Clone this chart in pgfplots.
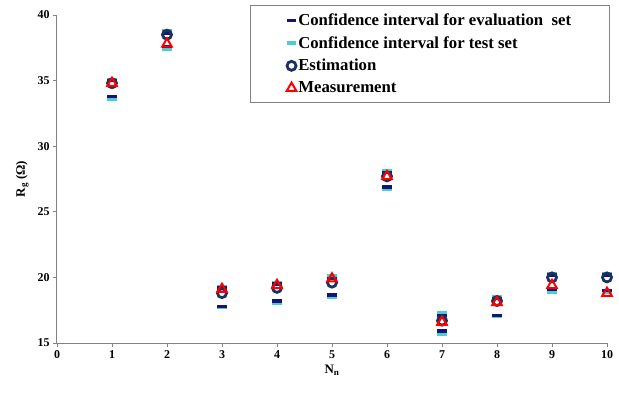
\documentclass[border=0pt]{standalone}
\usepackage{pgfplots}
\pgfplotsset{compat=1.18}
\usepackage{fontspec}
\setmainfont{Liberation Serif}
\definecolor{evalc}{RGB}{20,20,120}
\definecolor{testc}{RGB}{72,209,204}
\definecolor{estc}{RGB}{25,50,95}
\definecolor{measc}{RGB}{255,0,0}
\definecolor{axc}{RGB}{130,130,130}
\begin{document}
\begin{tikzpicture}[x=1bp,y=1bp]
\useasboundingbox (-57bp,-52bp) rectangle (562bp,343bp);
\begin{axis}[
  scale only axis, width=550bp, height=328bp,
  xmin=0, xmax=10, ymin=15, ymax=40,
  xtick={0,1,...,10}, ytick={15,20,...,40},
  axis lines*=left, axis line style={axc, line width=1bp, -},
  tick align=outside, major tick length=4bp,
  tick style={axc, line width=0.8bp},
  /pgf/number format/assume math mode=true,
  ticklabel style={font=\fontsize{12}{12}\selectfont\bfseries},
  xlabel={N\textsubscript{n}}, ylabel={R\textsubscript{g} (Ω)},
  label style={font=\fontsize{13}{13}\selectfont\bfseries},
  xlabel style={yshift=0bp},
  ylabel style={yshift=2bp},
  legend cell align=left,
  legend style={at={(1.005,1.03)}, anchor=north east, draw=axc, line width=1.2bp,
    font=\fontsize{16.8}{16.8}\selectfont\bfseries, inner xsep=36bp, inner ysep=6bp,
    row sep=5.5bp},
  legend image post style={xshift=3bp},
  clip=false,
]
\addlegendimage{only marks, mark=-, mark size=4.5bp, evalc, mark options={line width=3.5bp}}
\addlegendentry{Confidence interval for evaluation\ \ set}
\addlegendimage{only marks, mark=-, mark size=4.5bp, testc, mark options={line width=3.5bp}}
\addlegendentry{Confidence interval for test set}
\addlegendimage{only marks, mark=o, mark size=4.5bp, estc, mark options={line width=2.8bp, fill=white}}
\addlegendentry{Estimation}
\addlegendimage{only marks, mark=triangle, mark size=5.5bp, measc, mark options={line width=2bp, fill=white}}
\addlegendentry{Measurement}
% test set CI (upper and lower)
\addplot[forget plot, only marks, mark=-, mark size=5bp, testc, mark options={line width=3.5bp}] coordinates {
(1,35.1) (1,33.6) (2,38.8) (2,37.4) (3,19.3) (3,17.7) (4,19.6) (4,18.0) (5,20.1) (5,18.5)
(6,28.1) (6,26.7) (7,17.3) (7,15.7) (8,18.5) (8,17.05) (9,20.3) (9,18.9) (10,20.3) (10,18.85)};
% evaluation set CI (upper and lower)
\addplot[forget plot, only marks, mark=-, mark size=5bp, evalc, mark options={line width=3.5bp}] coordinates {
(1,35.0) (1,33.8) (2,38.6) (2,37.6) (3,19.2) (3,17.8) (4,19.5) (4,18.2) (5,19.9) (5,18.65)
(6,28.0) (6,26.9) (7,17.1) (7,15.9) (8,18.4) (8,17.1) (9,20.2) (9,19.1) (10,20.2) (10,19.0)};
% estimation
\addplot[forget plot, only marks, mark=o, mark size=4.5bp, estc, mark options={line width=2.8bp, fill=white}] coordinates {
(1,34.8) (2,38.5) (3,18.8) (4,19.2) (5,19.6) (6,27.7) (7,16.7) (8,18.2) (9,20.0) (10,20.0)};
% measurement
\addplot[forget plot, only marks, mark=triangle, mark size=5.5bp, measc, mark options={line width=2bp, fill=white}] coordinates {
(1,34.8) (2,37.8) (3,19.1) (4,19.4) (5,19.9) (6,27.7) (7,16.6) (8,18.1) (9,19.4) (10,18.8)};
\end{axis}
\end{tikzpicture}
\end{document}
